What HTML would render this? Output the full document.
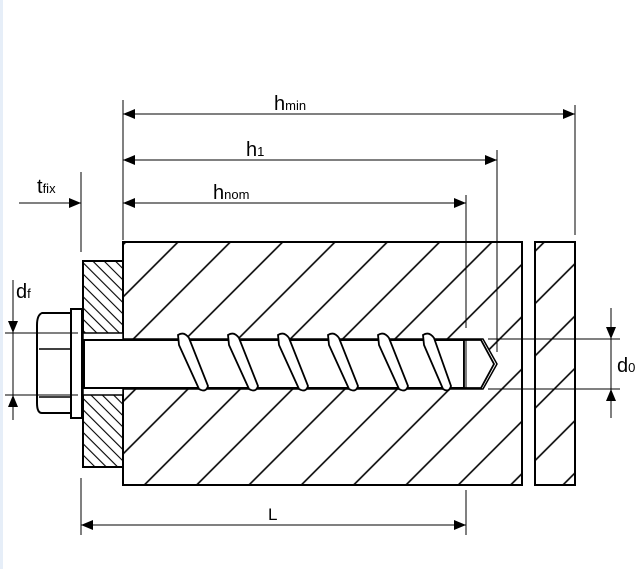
<!DOCTYPE html>
<html><head><style>body{margin:0;background:#fff}svg{display:block}text{font-family:"Liberation Sans",sans-serif;fill:#000}</style></head><body>
<svg width="642" height="569" viewBox="0 0 642 569" xmlns="http://www.w3.org/2000/svg">
<defs>
<pattern id="hc" patternUnits="userSpaceOnUse" width="37" height="37" patternTransform="rotate(45)">
<line x1="1" y1="0" x2="1" y2="37" stroke="#000" stroke-width="1.6"/></pattern>
<pattern id="hp" patternUnits="userSpaceOnUse" width="8" height="8" patternTransform="rotate(-45)">
<line x1="1" y1="0" x2="1" y2="8" stroke="#000" stroke-width="1.1"/></pattern>
<marker id="a" viewBox="0 0 12 10" refX="12" refY="5" markerWidth="12" markerHeight="10" markerUnits="userSpaceOnUse" orient="auto-start-reverse"><path d="M0,0L12,5L0,10z" fill="#000"/></marker>
</defs>
<rect x="0" y="0" width="3" height="569" fill="#e6eef8"/>
<rect x="123" y="242" width="399" height="243" fill="url(#hc)" stroke="#000" stroke-width="2"/>
<rect x="535" y="242" width="40" height="243" fill="url(#hc)" stroke="#000" stroke-width="2"/>
<rect x="83" y="261" width="40" height="206" fill="url(#hp)" stroke="#000" stroke-width="2"/>
<path d="M83,333 L123,333 L123,339 L483,339 L497,364 L483,389 L123,389 L123,395 L83,395 Z" fill="#fff" stroke="#000" stroke-width="1.5"/>
<rect x="84" y="340" width="380" height="48" fill="#fff" stroke="#000" stroke-width="2"/>
<path d="M464,340 L481,340 L494,364 L481,388 L464,388 Z" fill="#fff" stroke="#000" stroke-width="1.8"/>
<line x1="466" y1="340" x2="466" y2="388" stroke="#000" stroke-width="1"/>
<g fill="#fff" stroke="#000" stroke-width="1.8">
<path d="M178,335 Q184,331 189,338 L208,386 Q206,393 199,389 L179,345 Z"/>
<path d="M228,335 Q234,331 239,338 L258,386 Q256,393 249,389 L229,345 Z"/>
<path d="M278,335 Q284,331 289,338 L308,386 Q306,393 299,389 L279,345 Z"/>
<path d="M328,335 Q334,331 339,338 L358,386 Q356,393 349,389 L329,345 Z"/>
<path d="M378,335 Q384,331 389,338 L408,386 Q406,393 399,389 L379,345 Z"/>
<path d="M423,335 Q429,331 434,338 L451,386 Q449,393 443,389 L424,345 Z"/>
</g>
<rect x="71" y="309" width="11" height="109" fill="#fff" stroke="#000" stroke-width="2"/>
<path d="M71,313 L42,313 Q37,315 37,325 L37,403 Q37,413 42,413 L71,413 Z" fill="#fff" stroke="#000" stroke-width="2"/>
<line x1="39" y1="349" x2="71" y2="349" stroke="#000" stroke-width="1.5"/>
<line x1="39" y1="397" x2="71" y2="397" stroke="#000" stroke-width="1.5"/>
<g stroke="#000" stroke-width="1" fill="none">
<line x1="123" y1="100" x2="123" y2="240"/>
<line x1="81" y1="172" x2="81" y2="252"/>
<line x1="575" y1="105" x2="575" y2="235"/>
<line x1="497" y1="150" x2="497" y2="352"/>
<line x1="466" y1="195" x2="466" y2="328"/>
<line x1="81" y1="478" x2="81" y2="535"/>
<line x1="466" y1="490" x2="466" y2="535"/>
<line x1="123" y1="114" x2="575" y2="114" marker-start="url(#a)" marker-end="url(#a)"/>
<line x1="123" y1="160" x2="497" y2="160" marker-start="url(#a)" marker-end="url(#a)"/>
<line x1="123" y1="203" x2="466" y2="203" marker-start="url(#a)" marker-end="url(#a)"/>
<line x1="19" y1="203" x2="81" y2="203" marker-end="url(#a)"/>
<line x1="81" y1="525" x2="466" y2="525" marker-start="url(#a)" marker-end="url(#a)"/>
<line x1="5" y1="333" x2="78" y2="333"/>
<line x1="5" y1="395" x2="78" y2="395"/>
<line x1="13" y1="280" x2="13" y2="333" marker-end="url(#a)"/>
<line x1="13" y1="420" x2="13" y2="395" marker-end="url(#a)"/>
<line x1="13" y1="333" x2="13" y2="395"/>
<line x1="488" y1="339" x2="620" y2="339"/>
<line x1="488" y1="389" x2="620" y2="389"/>
<line x1="611" y1="308" x2="611" y2="339" marker-end="url(#a)"/>
<line x1="611" y1="418" x2="611" y2="389" marker-end="url(#a)"/>
<line x1="611" y1="339" x2="611" y2="389"/>
</g>
<text x="274" y="110" font-size="20">h<tspan font-size="13">min</tspan></text>
<text x="246" y="156" font-size="20">h<tspan font-size="13">1</tspan></text>
<text x="213" y="199" font-size="20">h<tspan font-size="13">nom</tspan></text>
<text x="37" y="193" font-size="20">t<tspan font-size="13">fix</tspan></text>
<text x="16" y="298" font-size="20">d<tspan font-size="13">f</tspan></text>
<text x="617" y="372" font-size="20">d<tspan font-size="13">0</tspan></text>
<text x="268" y="520" font-size="17">L</text>
</svg>
</body></html>
